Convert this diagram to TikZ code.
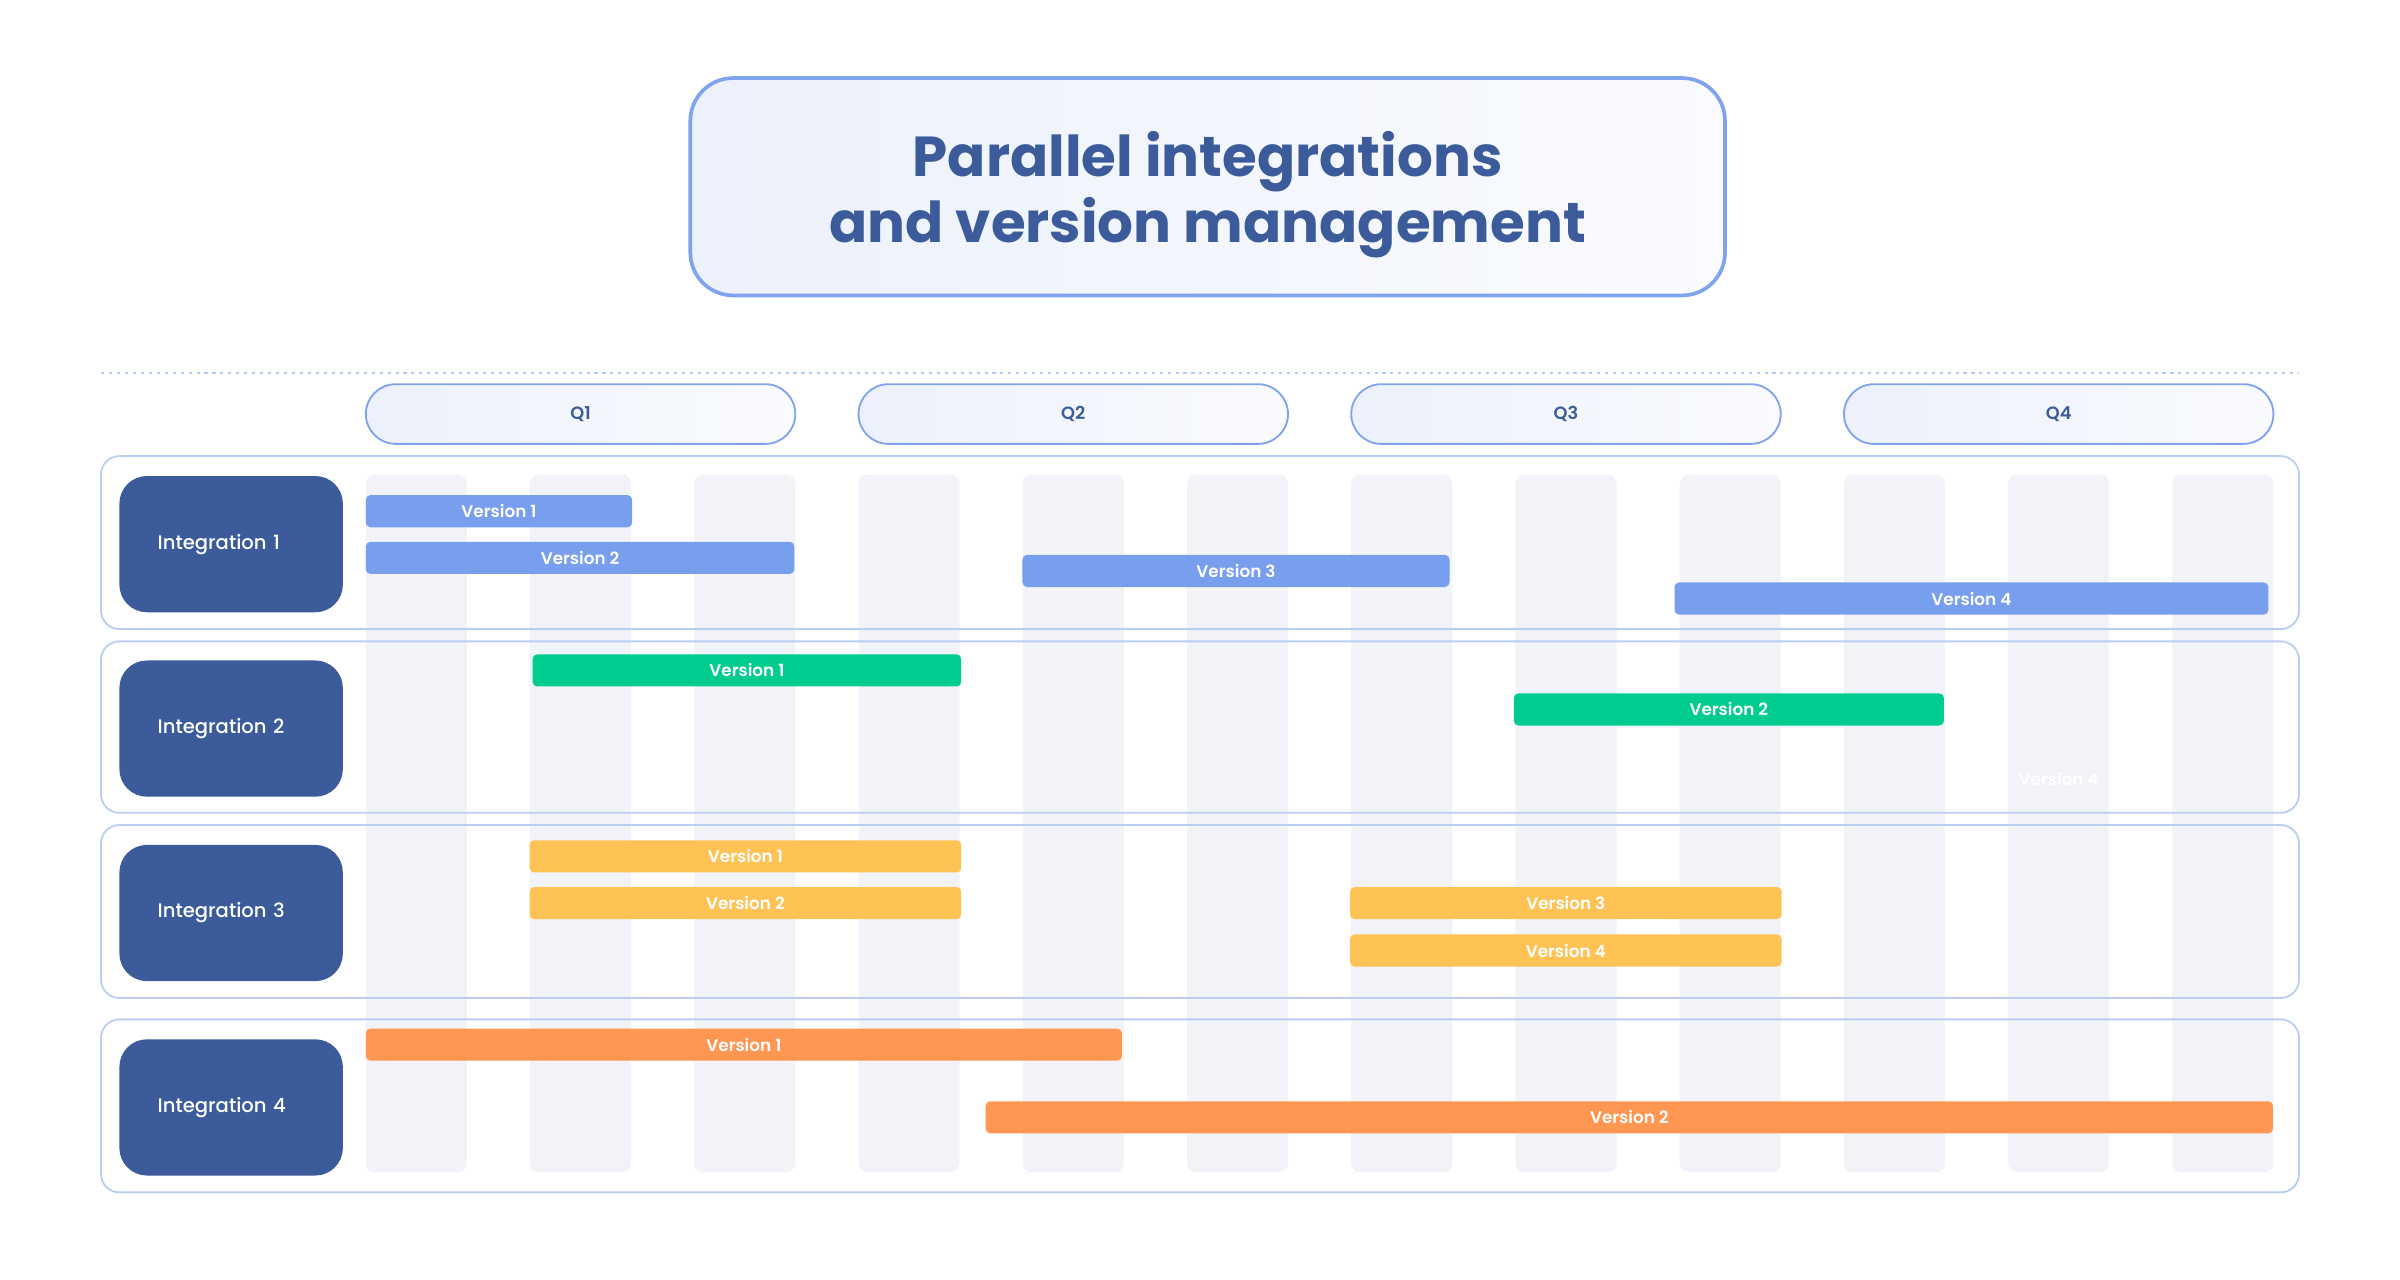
\documentclass[tikz,border=0pt]{standalone}
\usepackage{fontspec}
\setmainfont{Poppins}
\newfontfamily\semib{Poppins SemiBold}
\newfontfamily\medf{Poppins Medium}
\usepackage{tikz}
\usetikzlibrary{positioning}
\definecolor{navy}{HTML}{3B5B9A}
\definecolor{barblue}{HTML}{789EEE}
\definecolor{bargreen}{HTML}{00CC90}
\definecolor{baryellow}{HTML}{FFC255}
\definecolor{barorange}{HTML}{FF9652}
\definecolor{colgrey}{HTML}{F1F3F8}
\definecolor{rowline}{HTML}{BCCDF4}
\definecolor{pillline}{HTML}{7FA3EE}
\definecolor{paleblue}{HTML}{ECF1FB}

\begin{document}
\begin{tikzpicture}[x=0.5pt,y=-0.5pt,
  title/.style={draw=pillline,line width=1.2pt,rounded corners=14pt,left color=paleblue,right color=paleblue!30,
    minimum width=338pt,minimum height=71pt,align=center,text=navy,font=\bfseries\fontsize{18.4}{21.6}\selectfont},
  pill/.style={draw=pillline,line width=0.6pt,rounded corners=9.75pt,left color=paleblue,right color=paleblue!30,
    minimum width=140.3pt,minimum height=19.5pt,inner sep=0pt,text=navy,font=\semib\fontsize{5.8}{6}\selectfont},
  row/.style={draw=rowline,line width=0.6pt,rounded corners=6pt},
  col/.style={fill=colgrey,rounded corners=3pt},
  intbox/.style={fill=navy,rounded corners=9pt,minimum width=73pt,minimum height=44.5pt,inner xsep=12.5pt,
    text width=48pt,align=left,text=white,font=\medf\fontsize{6.4}{7}\selectfont},
  bar/.style={fill=#1,rounded corners=1.5pt,minimum height=10.5pt,inner sep=0pt,text=white,
    font=\semib\fontsize{5.5}{6}\selectfont}]
\useasboundingbox (0,0) rectangle (1568,836);

% title
\draw[title] (451,51) rectangle (1127,193);
\node[text=navy,align=center,font=\bfseries\fontsize{18.4}{21.6}\selectfont] (head) at (789,127) {Parallel integrations\\and version management};
\draw[pillline!60,line width=0.6pt,dash pattern=on 1pt off 1.6pt] (66,243.5) -- (1502,243.5);

% quarters
\foreach \q in {1,...,4}
  \node[pill] (q\q) at ({239+321.9*(\q-1)+140.3},270.5) {Q\q};

% month columns
\foreach \i in {0,...,11}
  \fill[col] ({239+107.3*\i},310) rectangle ++(66,456);

% rows
\draw[row] (66,298) rectangle (1502,411);
\draw[row] (66,419) rectangle (1502,531);
\draw[row] (66,539) rectangle (1502,652);
\draw[row] (66,666) rectangle (1502,779);

\node[intbox] (int1) at (151,355.5) {Integration 1};
\node[intbox] (int2) at (151,476) {Integration 2};
\node[intbox] (int3) at (151,596.5) {Integration 3};
\node[intbox] (int4) at (151,723.5) {Integration 4};

% versions
\node[bar=barblue,minimum width=87pt] (i1v1) at (326,334) {Version 1};
\node[bar=barblue,minimum width=140pt] (i1v2) at (379,364.5) {Version 2};
\node[bar=barblue,minimum width=139.5pt] (i1v3) at (807.5,373) {Version 3};
\node[bar=barblue,minimum width=194pt] (i1v4) at (1288,391) {Version 4};

\node[bar=bargreen,minimum width=140pt] (i2v1) at (488,438) {Version 1};
\node[bar=bargreen,minimum width=140.5pt] (i2v2) at (1129.5,463.5) {Version 2};
\node[text=white,font=\semib\fontsize{5.5}{6}\selectfont] (i2v4) at (1345,509) {Version 4};

\node[bar=baryellow,minimum width=141pt] (i3v1) at (487,559.5) {Version 1};
\node[bar=baryellow,minimum width=141pt] (i3v2) at (487,590) {Version 2};
\node[bar=baryellow,minimum width=141pt] (i3v3) at (1023,590) {Version 3};
\node[bar=baryellow,minimum width=141pt] (i3v4) at (1023,621) {Version 4};

\node[bar=barorange,minimum width=247pt] (i4v1) at (486,682.5) {Version 1};
\node[bar=barorange,minimum width=420.5pt] (i4v2) at (1064.5,730) {Version 2};
\end{tikzpicture}
\end{document}
